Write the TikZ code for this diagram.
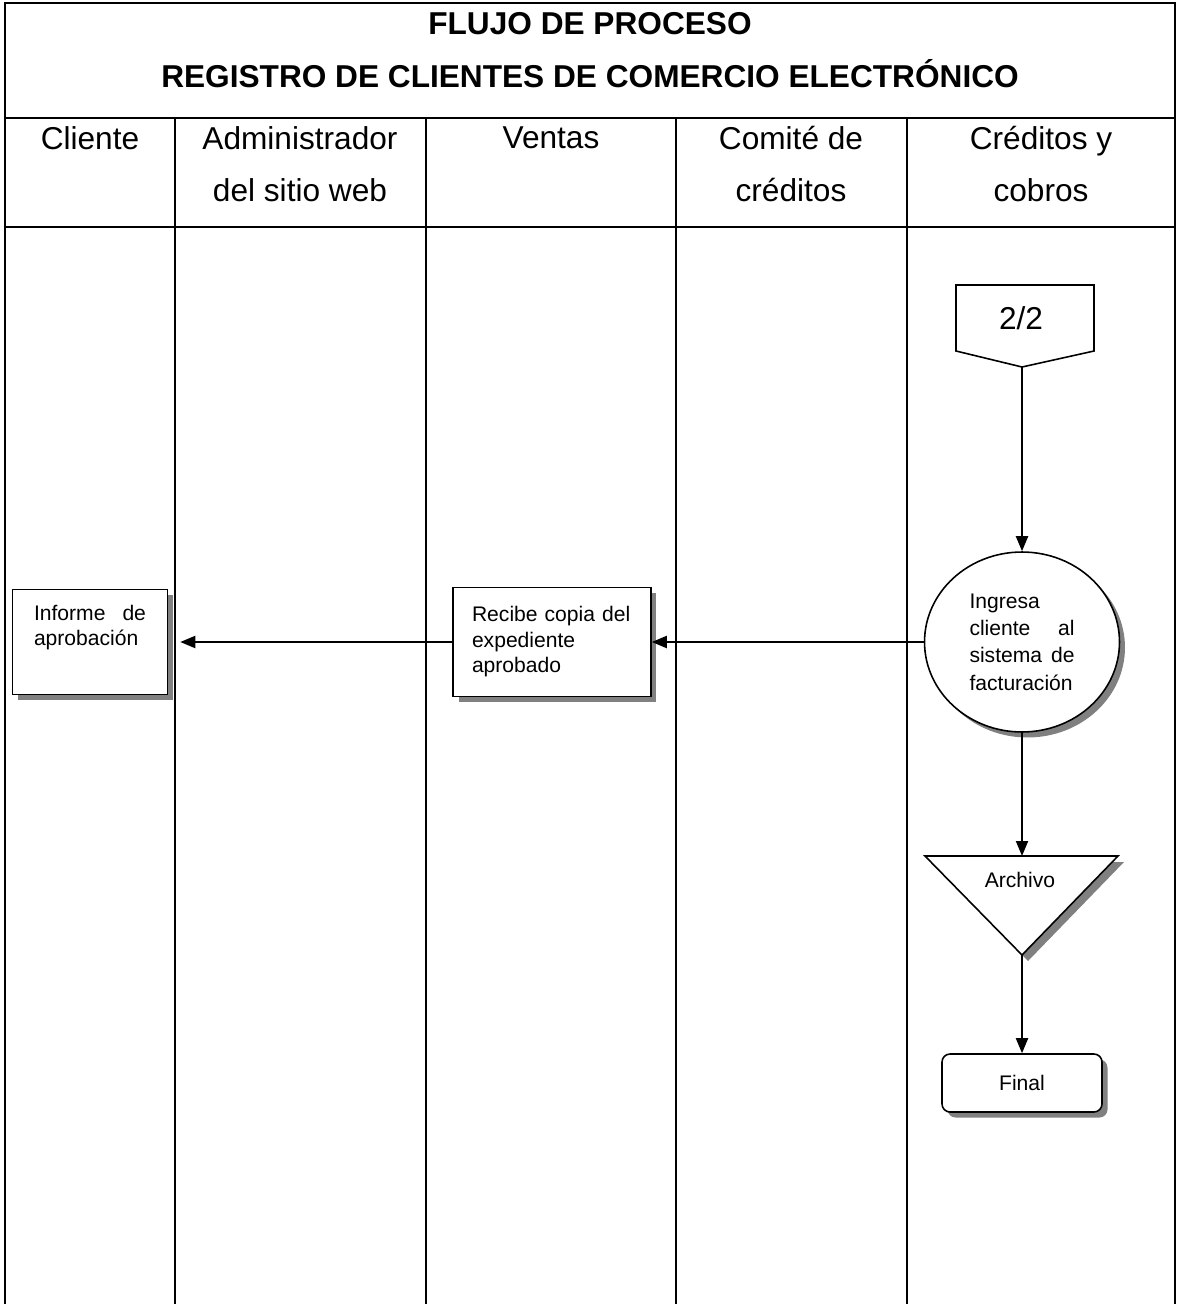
\documentclass[tikz,border=0pt]{standalone}
\usepackage{fontspec}
\setmainfont{Liberation Sans}
\usetikzlibrary{positioning}
\usetikzlibrary{shapes.geometric}
\usetikzlibrary{shadows}
\usetikzlibrary{arrows.meta}

\begin{document}
\begin{tikzpicture}[x=0.02cm, y=-0.02cm,
        lane/.style={line width=1.1pt},
        flow/.style={line width=1.1pt, -{Triangle[length=0.3cm, width=0.24cm]}},
        sombra/.style={drop shadow={shadow xshift=0.11cm, shadow yshift=-0.11cm, fill=black!50, opacity=1}},
        proc/.style={rectangle, draw, line width=0.9pt, fill=white, sombra, align=left, font=\fontsize{12}{14.5}\selectfont},
        head/.style={align=center, font=\fontsize{18}{29.6}\selectfont}]
        \useasboundingbox (0,0) rectangle (1178,1304);

        % tabla
        \draw[lane] (5,1304) -- (5,3) -- (1175,3) -- (1175,1304);
        \draw[lane] (5,118) -- (1175,118);
        \draw[line width=1.5pt] (5,227) -- (1175,227);
        \foreach \x in {175, 426, 676, 907}
            \draw[lane] (\x,118) -- (\x,1304);

        \node[align=center, font=\fontsize{18}{30}\selectfont\bfseries] (titulo) at (590,50) {FLUJO DE PROCESO\\REGISTRO DE CLIENTES DE COMERCIO ELECTR\'ONICO};
        \node[head] (hCliente) at (90,138) {Cliente};
        \node[head] (hAdmin) at (300,164) {Administrador\\del sitio web};
        \node[head] (hVentas) at (551,138) {Ventas};
        \node[head] (hComite) at (791,164) {Comit\'e de\\cr\'editos};
        \node[head] (hCreditos) at (1041,164) {Cr\'editos y\\cobros};

        % conector de pagina
        \draw[line width=0.9pt] (956,285) -- (1094,285) -- (1094,351) -- (1022,367) -- (956,351) -- cycle;
        \node[font=\fontsize{18}{22}\selectfont] (pagina) at (1021,318) {2/2};
        \coordinate (paginaTip) at (1022,367);

        \node[ellipse, draw, line width=0.9pt, fill=white, sombra, minimum width=3.9cm, minimum height=3.6cm, inner sep=0pt, text width=2.1cm, align=left, font=\fontsize{12}{15.6}\selectfont] (ingresa) at (1022,642) {Ingresa\\cliente \hfill al\\sistema \hfill de\\facturaci\'on};
        \node[proc, minimum width=3.96cm, minimum height=2.18cm, text width=3.2cm] (recibe) at (552,642) {Recibe copia del\\expediente\\aprobado};
        \node[proc, minimum width=3.1cm, minimum height=2.1cm, text width=2.24cm] (informe) at (90,642) {Informe \hfill de\\aprobaci\'on\\\strut};

        % archivo
        \fill[black!50] (931,862) -- (1124,862) -- (1028,961) -- cycle;
        \draw[line width=0.9pt, fill=white] (925,856) -- (1118,856) -- (1022,955) -- cycle;
        \node[font=\fontsize{12}{14.5}\selectfont] (archivo) at (1020,880) {Archivo};
        \coordinate (archivoTop) at (1022,856);
        \coordinate (archivoTip) at (1022,955);

        \node[rectangle, rounded corners=0.16cm, draw, line width=0.9pt, fill=white, sombra, minimum width=3.2cm, minimum height=1.16cm, font=\fontsize{12}{14.5}\selectfont] (final) at (1022,1083) {Final};

        \draw[flow] (paginaTip) -- (ingresa.north);
        \draw[flow] (ingresa.west) -- (recibe.east);
        \draw[flow, shorten >=0.24cm] (recibe.west) -- (informe.east);
        \draw[flow] (ingresa.south) -- (archivoTop);
        \draw[flow] (archivoTip) -- (final.north);
      \end{tikzpicture}
\end{document}
